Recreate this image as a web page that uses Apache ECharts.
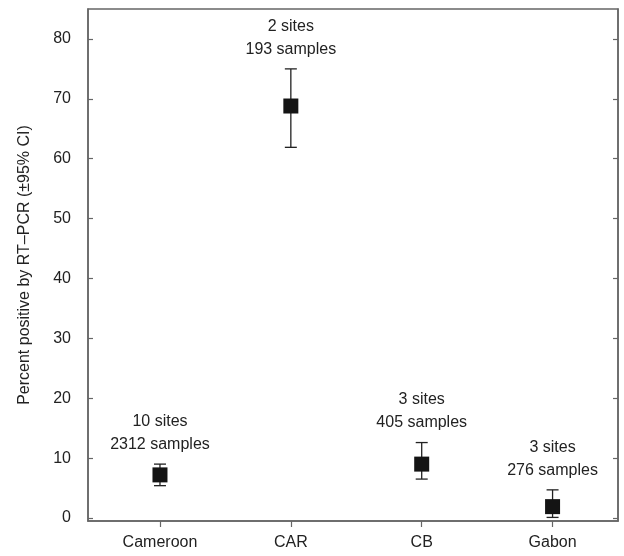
<!DOCTYPE html>
<html>
<head>
<meta charset="utf-8">
<script src="https://cdn.jsdelivr.net/npm/echarts@6/dist/echarts.min.js"></script>
<style>html,body{margin:0;padding:0;background:#fff;}#chart{width:624px;height:556px;}</style>
</head>
<body>
<div id="chart"></div>
<script>
const categories = ['Cameroon', 'CAR', 'CB', 'Gabon'];
const percent = [7.2, 68.8, 9.0, 1.9];
const ciLow = [5.4, 61.9, 6.5, 0.1];
const ciHigh = [9.0, 75.0, 12.6, 4.7];
const sites = [10, 2, 3, 3];
const samples = [2312, 193, 405, 276];
const yTicks = [0, 10, 20, 30, 40, 50, 60, 70, 80];
const xTicks = categories.map((c, i) => i);

const FONT = 'Liberation Sans, Arial, sans-serif';
const TXT = '#222';
const AX = '#666';

const errData = categories.map((c, i) => [i, percent[i], ciLow[i], ciHigh[i]]);
const labelData = categories.map((c, i) => [i, ciHigh[i]]);

const chart = echarts.init(document.getElementById('chart'));
chart.setOption({
  animation: false,
  backgroundColor: '#fff',
  grid: { left: 88, right: 6, top: 9, bottom: 35, show: true, borderColor: AX, borderWidth: 1.5, backgroundColor: 'transparent' },
  xAxis: [{
    type: 'value', min: -0.55, max: 3.5,
    axisLine: { show: true, onZero: false, lineStyle: { color: AX, width: 1.5 } },
    axisTick: { show: true, inside: false, length: 6, customValues: xTicks, lineStyle: { color: AX, width: 1.2 } },
    axisLabel: { customValues: xTicks, formatter: v => categories[Math.round(v)] || '', color: TXT, fontSize: 16, fontFamily: FONT, margin: 14 },
    splitLine: { show: false }
  }],
  yAxis: [{
    type: 'value', min: -0.5, max: 85,
    name: 'Percent positive by RT\u2013PCR (\u00b195% CI)',
    nameLocation: 'middle', nameGap: 55,
    nameTextStyle: { color: TXT, fontSize: 16, fontFamily: FONT },
    axisLine: { show: true, onZero: false, lineStyle: { color: AX, width: 1.5 } },
    axisTick: { show: true, inside: true, length: 5, customValues: yTicks, lineStyle: { color: AX, width: 1.2 } },
    axisLabel: { customValues: yTicks, color: TXT, fontSize: 16, fontFamily: FONT, margin: 17 },
    splitLine: { show: false }
  }, {
    type: 'value', min: -0.5, max: 85, position: 'right',
    axisLine: { show: true, onZero: false, lineStyle: { color: AX, width: 1.5 } },
    axisTick: { show: true, inside: true, length: 5, customValues: yTicks, lineStyle: { color: AX, width: 1.2 } },
    axisLabel: { show: false },
    splitLine: { show: false }
  }],
  series: [{
    type: 'custom',
    data: errData,
    encode: { x: 0, y: 1 },
    renderItem: function (params, api) {
      const x = api.value(0);
      const p = api.coord([x, api.value(1)]);
      const lo = api.coord([x, api.value(2)]);
      const hi = api.coord([x, api.value(3)]);
      const cap = 6, half = 7.5;
      const ls = { stroke: '#222', lineWidth: 1.3 };
      return {
        type: 'group',
        children: [
          { type: 'line', shape: { x1: p[0], y1: hi[1], x2: p[0], y2: lo[1] }, style: ls },
          { type: 'line', shape: { x1: p[0] - cap, y1: hi[1], x2: p[0] + cap, y2: hi[1] }, style: ls },
          { type: 'line', shape: { x1: p[0] - cap, y1: lo[1], x2: p[0] + cap, y2: lo[1] }, style: ls },
          { type: 'rect', shape: { x: p[0] - half, y: p[1] - half, width: half * 2, height: half * 2 }, style: { fill: '#141414' } }
        ]
      };
    },
    z: 3
  }, {
    type: 'scatter',
    data: labelData,
    symbolSize: 0,
    itemStyle: { opacity: 1 },
    label: {
      show: true, position: 'top', distance: 8, opacity: 1,
      formatter: p => sites[p.dataIndex] + ' sites\n' + samples[p.dataIndex] + ' samples',
      color: TXT, fontSize: 16, fontFamily: FONT, lineHeight: 23, align: 'center'
    },
    z: 4
  }]
});
</script>
</body>
</html>
